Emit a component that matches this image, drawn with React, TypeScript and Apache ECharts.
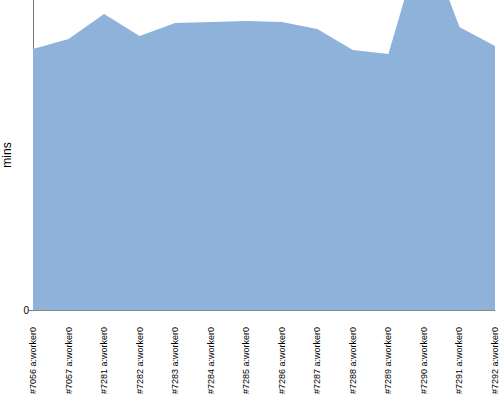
import React, { useEffect, useRef } from "react";
import * as echarts from "echarts";

const categories = [
  "#7056 a:worker0",
  "#7057 a:worker0",
  "#7281 a:worker0",
  "#7282 a:worker0",
  "#7283 a:worker0",
  "#7284 a:worker0",
  "#7285 a:worker0",
  "#7286 a:worker0",
  "#7287 a:worker0",
  "#7288 a:worker0",
  "#7289 a:worker0",
  "#7290 a:worker0",
  "#7291 a:worker0",
  "#7292 a:worker0",
];
const minsValues = [26.1, 27.1, 29.6, 27.4, 28.7, 28.8, 28.9, 28.8, 28.1, 26.0, 25.6, 37.7, 28.3, 26.4];
const yMin = 0;
const yMax = 31;
const yTickValues = [0];

export default function App() {
  const ref = useRef<HTMLDivElement>(null);
  useEffect(() => {
    const chart = echarts.init(ref.current!, null, { renderer: "svg" });
    chart.setOption({
      animation: false,
      grid: { left: 33, right: 5, top: 0, bottom: 90, containLabel: false, outerBoundsMode: "none" },
      xAxis: {
        type: "category",
        data: categories,
        boundaryGap: false,
        axisLine: { lineStyle: { color: "#888888" } },
        axisTick: { show: false },
        axisLabel: {
          rotate: 90,
          interval: 0,
          margin: 17,
          color: "#000",
          fontSize: 9,
          fontFamily: "Liberation Sans",
        },
      },
      yAxis: {
        type: "value",
        min: yMin,
        max: yMax,
        interval: yMax,
        name: "mins",
        nameLocation: "middle",
        nameRotate: 90,
        nameGap: 17,
        nameTextStyle: { color: "#000", fontSize: 12, fontFamily: "Liberation Sans" },
        axisLine: { show: true, lineStyle: { color: "#777777" } },
        axisTick: { show: true, length: 4, customValues: yTickValues, lineStyle: { color: "#777777" } },
        splitLine: { show: false },
        axisLabel: {
          color: "#000",
          fontSize: 10,
          fontFamily: "Liberation Sans",
          margin: 4,
          customValues: yTickValues,
          formatter: (v: number) => (v === 0 ? "0" : ""),
        },
      },
      series: [
        {
          type: "line",
          data: minsValues,
          symbol: "none",
          lineStyle: { width: 0, color: "#8fb2da" },
          areaStyle: { color: "#8fb2da", opacity: 1 },
          itemStyle: { color: "#8fb2da" },
        },
      ],
    });
    return () => chart.dispose();
  }, []);
  return <div ref={ref} style={{ width: 500, height: 400, position: "absolute", left: 0, top: 0 }} />;
}
